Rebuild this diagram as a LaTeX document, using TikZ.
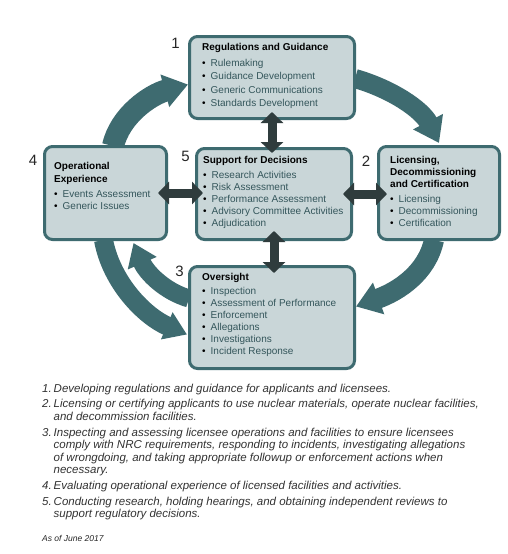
\documentclass[tikz,border=0pt]{standalone}
\usepackage{fontspec}
\setmainfont{Liberation Sans}
\usetikzlibrary{arrows.meta,calc,backgrounds}
\definecolor{tealc}{HTML}{3E6B70}
\definecolor{boxfill}{HTML}{C9D6D8}
\definecolor{dblc}{HTML}{2F3C3D}
\definecolor{itemc}{HTML}{34565B}
\definecolor{notec}{HTML}{333333}
\newcommand{\bitem}[1]{\makebox[8.5pt][l]{\textbullet}\textcolor{itemc}{#1}}
\begin{document}
\begin{tikzpicture}[x=1pt,y=-1pt,
  box/.style={draw=tealc, fill=boxfill, line width=3pt, rounded corners=8pt, anchor=north west, inner sep=0pt},
  content/.style={anchor=base west, inner sep=0pt},
  num/.style={anchor=base, inner sep=0pt, font=\fontsize{15}{15}\selectfont, text=black!85},
  bigarrow/.style={draw=tealc, line width=20pt, -{Triangle[width=32pt,length=24pt]}},
  dblarrow/.style={draw=dblc, line width=9pt, {Triangle[width=22pt,length=11pt]}-{Triangle[width=22pt,length=11pt]}},
  note/.style={anchor=base west, inner sep=0pt, text=notec, font=\fontsize{11.5}{12.5}\selectfont\itshape},
]
\path[use as bounding box] (0,0) rectangle (507,554);

% boxes
\node[box, minimum width=165pt, minimum height=82pt] (b1) at (188,35) {};
\node[box, minimum width=122pt, minimum height=93pt] (b4) at (43,145) {};
\node[box, minimum width=155pt, minimum height=91pt] (b5) at (195,147) {};
\node[box, minimum width=121pt, minimum height=93pt] (b2) at (377,145) {};
\node[box, minimum width=165pt, minimum height=102pt] (b3) at (188,265) {};

% box contents
\node[content, font=\fontsize{10}{13.3}\selectfont] (t1) at (202,50.5) {\begin{tabular}[t]{@{}l@{}}
\textbf{Regulations and Guidance}\\[2.7pt]
\bitem{Rulemaking}\\ \bitem{Guidance Development}\\ \bitem{Generic Communications}\\ \bitem{Standards Development}
\end{tabular}};
\node[content, font=\fontsize{10}{12.2}\selectfont] (t5) at (203,163.8) {\begin{tabular}[t]{@{}l@{}}
\textbf{Support for Decisions}\\[2pt]
\bitem{Research Activities}\\ \bitem{Risk Assessment}\\ \bitem{Performance Assessment}\\ \bitem{Advisory Committee Activities}\\ \bitem{Adjudication}
\end{tabular}};
\node[content, font=\fontsize{10}{12.5}\selectfont] (t4) at (54,169.8) {\begin{tabular}[t]{@{}l@{}}
\textbf{Operational}\\ \textbf{Experience}\\[2.5pt]
\bitem{Events Assessment}\\ \bitem{Generic Issues}
\end{tabular}};
\node[content, font=\fontsize{10}{12}\selectfont] (t2) at (390,163) {\begin{tabular}[t]{@{}l@{}}
\textbf{Licensing,}\\ \textbf{Decommissioning}\\ \textbf{and Certification}\\[3pt]
\bitem{Licensing}\\ \bitem{Decommissioning}\\ \bitem{Certification}
\end{tabular}};
\node[content, font=\fontsize{10}{11.9}\selectfont] (t3) at (202,280.5) {\begin{tabular}[t]{@{}l@{}}
\textbf{Oversight}\\[2.4pt]
\bitem{Inspection}\\ \bitem{Assessment of Performance}\\ \bitem{Enforcement}\\ \bitem{Allegations}\\ \bitem{Investigations}\\ \bitem{Incident Response}
\end{tabular}};

% numbers
\node[num] (n1) at (175.5,48.3) {1};
\node[num] (n5) at (185.5,161.7) {5};
\node[num] (n4) at (33,165) {4};
\node[num] (n2) at (366,166.5) {2};
\node[num] (n3) at (179.5,276.7) {3};

% double arrows
\draw[dblarrow, shorten <=-8pt, shorten >=-6pt] (b1.south) -- (b1.south |- b5.north);
\draw[dblarrow, shorten <=-10pt, shorten >=-8pt] (b5.south) -- (b5.south |- b3.north);
\draw[dblarrow, shorten <=-10pt, shorten >=-8pt] (b4.east) -- (b4.east -| b5.west);
\draw[dblarrow, shorten <=-10pt, shorten >=-10pt] (b5.east) -- (b5.east -| b2.west);

% big cycle arrows
\begin{scope}[on background layer]
\fill[white] (0,0) rectangle (507,554);
\coordinate (a1) at ($(b4.north west)+(70,1)$);
\coordinate (a2) at ($(b1.west)+(0,7)$);
\coordinate (c1) at ($(b1.east)+(-1,1)$);
\coordinate (c2) at ($(b2.north)+(0,-2)$);
\coordinate (d1) at ($(b2.south)+(-5,-1)$);
\coordinate (d2) at ($(b3.east)+(0,-11)$);
\coordinate (e1) at ($(b3.west)+(1,-19)$);
\coordinate (e2) at ($(b4.south)+(28,2)$);
\coordinate (f1) at ($(b4.south)+(-2,-1)$);
\coordinate (f2) at ($(b3.west)+(-1,17)$);
\draw[bigarrow, line width=22pt] (a1) .. controls +(7,-31) and +(-37,10) .. (a2);
\draw[bigarrow, line width=19pt] (c1) .. controls +(38,11) and +(-17,-33) .. (c2);
\draw[bigarrow, line width=20pt] (d1) .. controls +(-7,33) and +(42,-15) .. (d2);
\draw[bigarrow, line width=18pt, -{Triangle[width=30pt,length=22pt]}] (e1) .. controls +(-24,-7) and +(13,30) .. (e2);
\draw[bigarrow, line width=19pt, -{Triangle[width=28pt,length=22pt]}] (f1) .. controls +(8,43) and +(-42,-18) .. (f2);
\end{scope}

% footnotes
\node[note] (notes) at (42,392) {\begin{tabular}[t]{@{}p{11.5pt}@{}l@{}}
1. & Developing regulations and guidance for applicants and licensees.\\[3.3pt]
2. & Licensing or certifying applicants to use nuclear materials, operate nuclear facilities,\\
   & and decommission facilities.\\[3.3pt]
3. & Inspecting and assessing licensee operations and facilities to ensure licensees\\
   & comply with NRC requirements, responding to incidents, investigating allegations\\
   & of wrongdoing, and taking appropriate followup or enforcement actions when\\
   & necessary.\\[3.3pt]
4. & Evaluating operational experience of licensed facilities and activities.\\[3.3pt]
5. & Conducting research, holding hearings, and obtaining independent reviews to\\
   & support regulatory decisions.
\end{tabular}};
\node[anchor=base west, inner sep=0pt, font=\fontsize{8.5}{8.5}\selectfont\itshape, text=black!85] (asof) at (42,541.7) {As of June 2017};
\end{tikzpicture}
\end{document}
